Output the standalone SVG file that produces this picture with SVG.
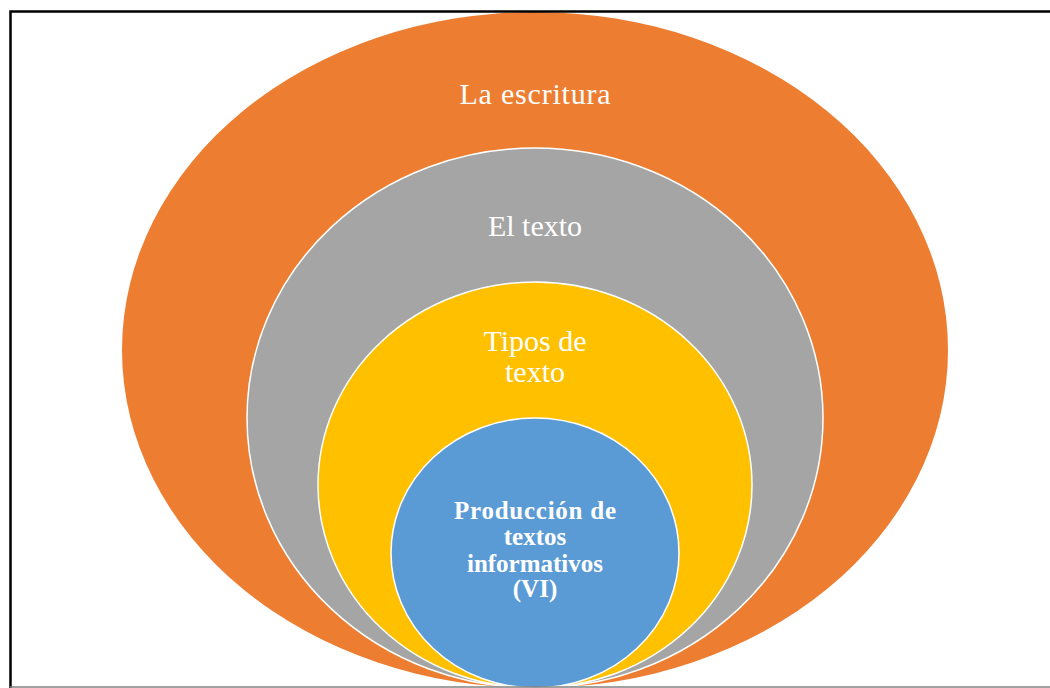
<svg xmlns="http://www.w3.org/2000/svg" width="1050" height="688" viewBox="0 0 1050 688">
<style>
.lbl{font-family:"Liberation Serif","Times New Roman",serif;fill:#fff;text-anchor:middle}
.reg{font-size:30px}
.bold{font-size:25px;font-weight:bold}
.ring{stroke:#fff;stroke-width:1.5}
</style>
<rect x="0" y="0" width="1050" height="688" fill="#fff"/>
<g id="escritura">
<ellipse cx="535" cy="350" rx="413" ry="338" fill="#ED7D31"/>
<text class="lbl reg" x="535" y="104" textLength="151">La escritura</text>
</g>
<g id="texto">
<ellipse class="ring" cx="535" cy="418" rx="288" ry="270" fill="#A5A5A5"/>
<text class="lbl reg" x="535" y="236">El texto</text>
</g>
<g id="tipos">
<ellipse class="ring" cx="535" cy="485" rx="217" ry="203" fill="#FFC000"/>
<text class="lbl reg" x="535" y="351">Tipos de</text>
<text class="lbl reg" x="535" y="382">texto</text>
</g>
<g id="produccion">
<ellipse class="ring" cx="535" cy="553" rx="144" ry="135" fill="#5B9BD5"/>
<text class="lbl bold" x="535" y="519" textLength="162">Producción de</text>
<text class="lbl bold" x="535" y="545">textos</text>
<text class="lbl bold" x="535" y="572">informativos</text>
<text class="lbl bold" x="535" y="597">(VI)</text>
</g>
<g id="connectors"></g>
<path d="M10.5 688 V11.5 H1050" fill="none" stroke="#000" stroke-width="2.5"/>
<line x1="10" y1="687" x2="1050" y2="687" stroke="#808080" stroke-width="1.5"/>
</svg>
